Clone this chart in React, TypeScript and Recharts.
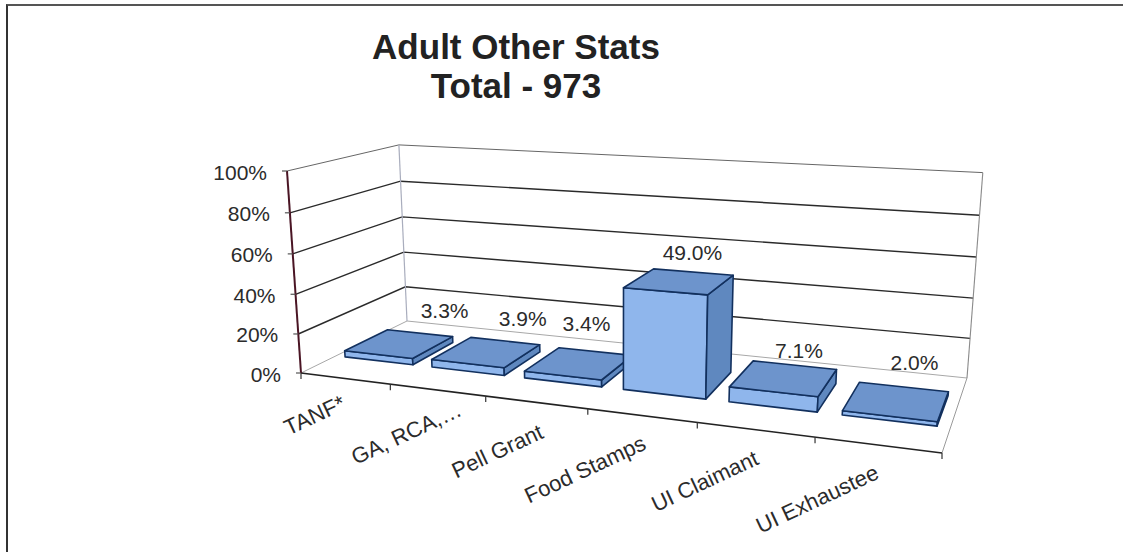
import { Bar, BarChart, CartesianGrid, LabelList, ReferenceLine, XAxis, YAxis } from 'recharts';

const categories = ['TANF*', 'GA, RCA,…', 'Pell Grant', 'Food Stamps', 'UI Claimant', 'UI Exhaustee'];
const percents = [3.3, 3.9, 3.4, 49.0, 7.1, 2.0];
const yTicks = [0, 20, 40, 60, 80, 100];

const chartData = categories.map((name, i) => ({ name, value: percents[i] }));

const WIDTH = 1123;
const HEIGHT = 552;
const margin = { top: 100, right: 100, bottom: 100, left: 100 };
const Y_AXIS_W = 60;
const X_AXIS_H = 30;
const plotLeft = margin.left + Y_AXIS_W;
const plotTop = margin.top;
const plotW = WIDTH - margin.left - margin.right - Y_AXIS_W;
const plotH = HEIGHT - margin.top - margin.bottom - X_AXIS_H;

// camera for the fake 3d box
// floor corners in order front-left, front-right, back-right, back-left
type Pt = [number, number];
const floorQuad: Pt[] = [[301, 373], [942, 453], [967, 378], [407, 321]];
const axisTop: Pt = [287, 171];
const W_UP = -0.042;
const BAR_FRONT = 0.3;
const BAR_BACK = 0.71;

const [[x0, y0], [x1, y1], [x2, y2], [x3, y3]] = floorQuad;
const den = (x1 - x2) * (y3 - y2) - (x3 - x2) * (y1 - y2);
const sx = x0 - x1 + x2 - x3;
const sy = y0 - y1 + y2 - y3;
const wU = (sx * (y3 - y2) - (x3 - x2) * sy) / den;
const wD = ((x1 - x2) * sy - sx * (y1 - y2)) / den;

// u across the categories, d into the depth, h up the value axis, all 0..1
const project = (u: number, d: number, h: number): Pt => {
  const w = 1 + wU * u + wD * d + W_UP * h;
  const px = x0 + (x1 - x0 + wU * x1) * u + (x3 - x0 + wD * x3) * d + (axisTop[0] * (1 + W_UP) - x0) * h;
  const py = y0 + (y1 - y0 + wU * y1) * u + (y3 - y0 + wD * y3) * d + (axisTop[1] * (1 + W_UP) - y0) * h;
  // the far top corner sits a bit lower than a pure projection gives
  return [px / w, py / w + 4.5 * u * d * h];
};
const toU = (x: number) => (x - plotLeft) / plotW;
const toH = (y: number) => (plotTop + plotH - y) / plotH;
const poly = (pts: Pt[]) => pts.map((p) => `${p[0].toFixed(1)},${p[1].toFixed(1)}`).join(' ');

const labelFont = '"Liberation Sans", Arial, sans-serif';

const Box = (props: any) => {
  const { x, y, width, height } = props;
  const u0 = toU(x);
  const u1 = toU(x + width);
  const h = toH(y);
  const base = toH(y + height);
  const stroke = { stroke: '#12305e', strokeWidth: 1.6, strokeLinejoin: 'round' as const };
  return (
    <g>
      <polygon
        points={poly([project(u0, BAR_FRONT, base), project(u1, BAR_FRONT, base), project(u1, BAR_FRONT, h), project(u0, BAR_FRONT, h)])}
        fill="#8fb6ec"
        {...stroke}
      />
      <polygon
        points={poly([project(u1, BAR_FRONT, base), project(u1, BAR_BACK, base), project(u1, BAR_BACK, h), project(u1, BAR_FRONT, h)])}
        fill="#5f88bf"
        {...stroke}
      />
      <polygon
        points={poly([project(u0, BAR_FRONT, h), project(u1, BAR_FRONT, h), project(u1, BAR_BACK, h), project(u0, BAR_BACK, h)])}
        fill="#6d94cc"
        {...stroke}
      />
    </g>
  );
};

const labelNudge: Pt[] = [[45, -33], [36, -33], [7, -40], [13, -29], [15, -28], [18, -39]];

const ValueLabel = (props: any) => {
  const { x, y, width, value, index } = props;
  const p = project(toU(x + width / 2), (BAR_FRONT + BAR_BACK) / 2, toH(y));
  return (
    <text
      x={p[0] + labelNudge[index][0]}
      y={p[1] + labelNudge[index][1]}
      textAnchor="middle"
      dominantBaseline="central"
      fontFamily={labelFont}
      fontSize={21}
      fill="#2b2b2b"
    >
      {`${Number(value).toFixed(1)}%`}
    </text>
  );
};

const bandU = 1 / categories.length;
const tickNudge: Pt[] = [[2, 30], [26, 25], [9, 35], [6, 33], [5, 34], [3, 33]];

const CategoryTick = (props: any) => {
  const { payload, index } = props;
  const u = toU(payload.coordinate);
  const c = project(u, 0, 0);
  const left = project(u - bandU / 2, 0, 0);
  const right = project(u + bandU / 2, 0, 0);
  const tx = c[0] + tickNudge[index][0];
  const ty = c[1] + tickNudge[index][1];
  return (
    <g>
      <line x1={left[0]} y1={left[1]} x2={left[0]} y2={left[1] + 6} stroke="#333" strokeWidth={1.2} />
      {index === categories.length - 1 && (
        <line x1={right[0]} y1={right[1]} x2={right[0]} y2={right[1] + 6} stroke="#333" strokeWidth={1.2} />
      )}
      <text
        x={tx}
        y={ty}
        textAnchor="end"
        transform={`rotate(-25 ${tx} ${ty})`}
        fontFamily={labelFont}
        fontSize={22}
        fill="#2b2b2b"
      >
        {payload.value}
      </text>
    </g>
  );
};

const ValueTick = (props: any) => {
  const { payload } = props;
  const p = project(0, 0, toH(payload.coordinate));
  return (
    <g>
      <line x1={p[0] - 5} y1={p[1]} x2={p[0]} y2={p[1]} stroke="#555" strokeWidth={1.2} />
      <text
        x={p[0] - 20}
        y={p[1] + 1}
        textAnchor="end"
        dominantBaseline="central"
        fontFamily={labelFont}
        fontSize={21}
        fill="#2b2b2b"
      >
        {`${payload.value}%`}
      </text>
    </g>
  );
};

const WallLine = (props: any) => {
  const h = toH(props.y1);
  const isFloor = h < 0.01;
  const isTop = h > 0.99;
  return (
    <polyline
      key={props.key}
      points={poly([project(0, 0, h), project(0, 1, h), project(1, 1, h)])}
      fill="none"
      stroke={isFloor ? '#a8a8a8' : isTop ? '#666' : '#2a2a2a'}
      strokeWidth={isFloor || isTop ? 1 : 1.4}
    />
  );
};

// box edges that are not gridlines
const Frame = () => (
  <g fill="none">
    <polyline points={poly([project(0, 1, 0), project(0, 1, 1)])} stroke="#a9adbd" strokeWidth={1.2} />
    <polyline points={poly([project(1, 1, 0), project(1, 1, 1)])} stroke="#8a8a8a" strokeWidth={1.1} />
    <polyline points={poly([project(1, 0, 0), project(1, 1, 0)])} stroke="#9a9a9a" strokeWidth={1} />
    <polyline points={poly([project(0, 0, 0), project(1, 0, 0)])} stroke="#222" strokeWidth={1.6} />
    <polyline points={poly([project(0, 0, 0), project(0, 0, 1)])} stroke="#4a1524" strokeWidth={2} />
  </g>
);

export default function App() {
  return (
    <div style={{ position: 'absolute', left: 0, top: 0, width: WIDTH, height: HEIGHT, background: '#fff', overflow: 'hidden' }}>
      <div
        style={{
          position: 'absolute',
          left: 6,
          top: 4,
          width: 1130,
          height: 546,
          borderTop: '2px solid #555',
          borderLeft: '2px solid #333',
          borderBottom: '1px solid #ddd',
        }}
      />
      <div
        style={{
          position: 'absolute',
          left: 316,
          top: 28,
          width: 400,
          textAlign: 'center',
          fontFamily: labelFont,
          fontWeight: 700,
          fontSize: 35,
          lineHeight: '38.5px',
          color: '#222',
        }}
      >
        Adult Other Stats
        <br />
        Total - 973
      </div>
      <BarChart
        style={{ position: 'absolute', left: 0, top: 0 }}
        width={WIDTH}
        height={HEIGHT}
        data={chartData}
        margin={margin}
        barCategoryGap="10.7%"
      >
        <CartesianGrid vertical={false} horizontal={(p: any) => <WallLine {...p} />} />
        <XAxis dataKey="name" height={X_AXIS_H} axisLine={false} tickLine={false} interval={0} tick={<CategoryTick />} />
        <YAxis width={Y_AXIS_W} domain={[0, 100]} ticks={yTicks} axisLine={false} tickLine={false} interval={0} tick={<ValueTick />} />
        <ReferenceLine y={0} shape={() => <Frame />} />
        <Bar dataKey="value" shape={<Box />} isAnimationActive={false}>
          <LabelList dataKey="value" content={(p: any) => <ValueLabel {...p} />} />
        </Bar>
      </BarChart>
    </div>
  );
}
